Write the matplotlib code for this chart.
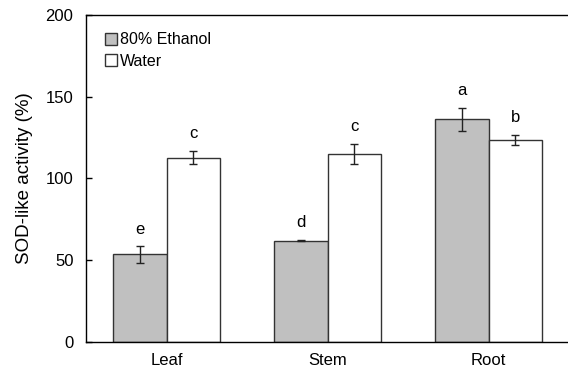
import numpy as np
import matplotlib
matplotlib.use("Agg")
import matplotlib.pyplot as plt
from matplotlib.patches import Patch

plt.rcParams['font.family'] = ['Liberation Sans', 'DejaVu Sans']

# SOD-like activity by plant part and extraction solvent
parts = ['Leaf', 'Stem', 'Root']
ethanol = [53.5, 62.0, 136.0]
ethanol_err = [5.0, 0.5, 7.0]
water = [112.6, 115.0, 123.4]
water_err = [4.0, 6.0, 3.0]
ethanol_letters = ['e', 'd', 'a']
water_letters = ['c', 'c', 'b']

fs = 12

fig = plt.figure(figsize=(5.68, 3.76), dpi=100)
ax = fig.add_axes([86/568, 1 - 342/376, 1 - 86/568 + 0.002, (342 - 14.7)/376])

x = np.arange(len(parts))
w = 1/3
ax.bar(x - w/2, ethanol, w, color='#c0c0c0', edgecolor='#333333', linewidth=1.0)
ax.bar(x + w/2, water, w, color='white', edgecolor='#333333', linewidth=1.0)
ax.errorbar(x - w/2, ethanol, yerr=ethanol_err, fmt='none', ecolor='#222222',
            elinewidth=1.0, capsize=3, capthick=1.0)
ax.errorbar(x + w/2, water, yerr=water_err, fmt='none', ecolor='#222222',
            elinewidth=1.0, capsize=3, capthick=1.0)

for xi, v, e, t in zip(x - w/2, ethanol, ethanol_err, ethanol_letters):
    ax.annotate(t, (xi, v + e), xytext=(0, 7), textcoords='offset points',
                ha='center', va='bottom', fontsize=fs)
for xi, v, e, t in zip(x + w/2, water, water_err, water_letters):
    ax.annotate(t, (xi, v + e), xytext=(0, 7), textcoords='offset points',
                ha='center', va='bottom', fontsize=fs)

ax.set_xlim(-0.5, 2.5)
ax.set_ylim(0, 200)
ax.set_yticks([0, 50, 100, 150, 200])
ax.set_xticks(x)
ax.set_xticklabels(parts)
ax.tick_params(axis='x', length=0, pad=8, labelsize=fs)
ax.tick_params(axis='y', direction='in', length=4, width=1, pad=9, labelsize=fs)
ax.set_ylabel('SOD-like activity (%)', fontsize=13.5, labelpad=9)
ax.spines['right'].set_visible(False)
for s in ['left', 'top', 'bottom']:
    ax.spines[s].set_linewidth(1.0)

handles = [Patch(facecolor='#c0c0c0', edgecolor='#333333', label='80% Ethanol'),
           Patch(facecolor='white', edgecolor='#333333', label='Water')]
ax.legend(handles=handles, loc='upper left', frameon=False, fontsize=11.5,
          handlelength=0.75, handleheight=0.75, handletextpad=0.2,
          labelspacing=0.4, borderaxespad=0.5, bbox_to_anchor=(0.01, 0.99))

fig.savefig('out.png', dpi=100)
